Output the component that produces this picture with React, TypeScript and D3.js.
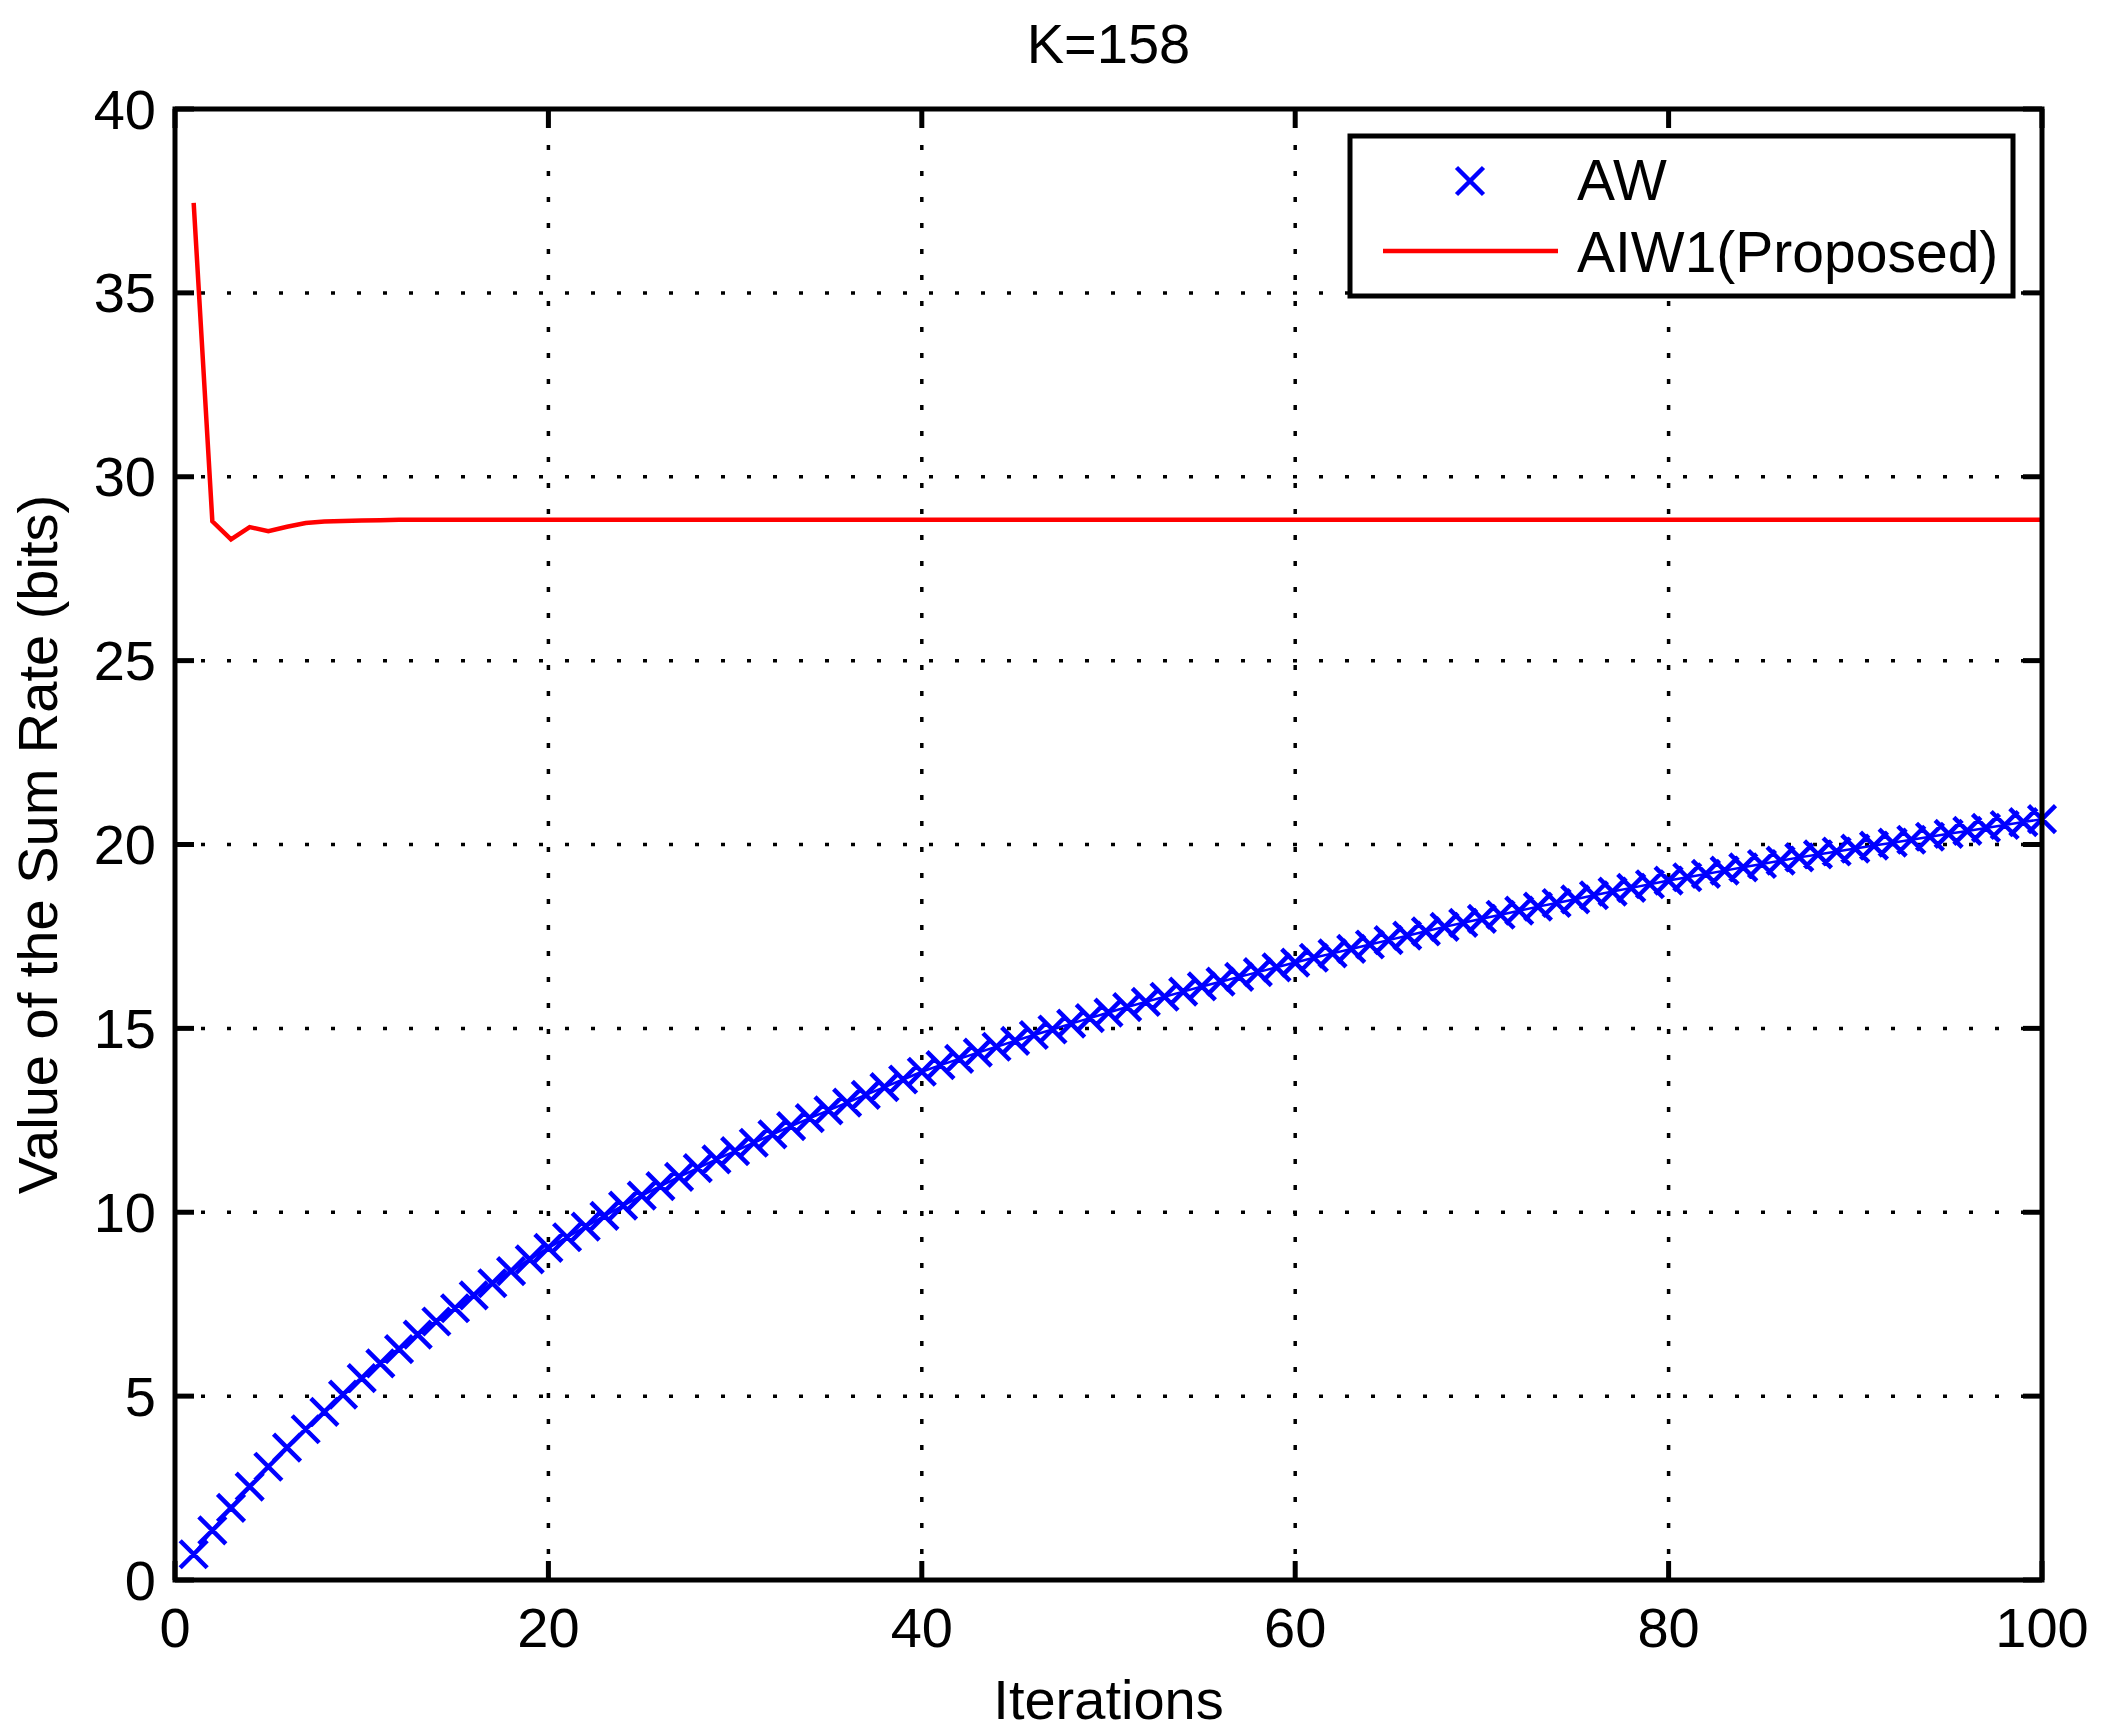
import React from "react";
import * as d3 from "d3";

// iterations 1..100
const iterations = d3.range(1, 101);

// AW (blue x markers)
const awValues = [
  0.7, 1.35, 1.96, 2.54, 3.08, 3.6, 4.1, 4.57, 5.04, 5.49,
  5.89, 6.28, 6.67, 7.03, 7.39, 7.74, 8.07, 8.4, 8.72, 9.03,
  9.32, 9.61, 9.9, 10.18, 10.45, 10.71, 10.96, 11.2, 11.44, 11.66,
  11.89, 12.12, 12.34, 12.56, 12.77, 12.98, 13.19, 13.4, 13.61, 13.82,
  14.0, 14.17, 14.34, 14.5, 14.66, 14.82, 14.97, 15.13, 15.28, 15.43,
  15.58, 15.72, 15.86, 16.0, 16.14, 16.27, 16.4, 16.53, 16.66, 16.79,
  16.92, 17.04, 17.16, 17.28, 17.4, 17.52, 17.64, 17.76, 17.87, 17.98,
  18.09, 18.2, 18.31, 18.41, 18.51, 18.62, 18.72, 18.82, 18.92, 19.02,
  19.11, 19.2, 19.29, 19.38, 19.47, 19.56, 19.65, 19.73, 19.81, 19.89,
  19.97, 20.05, 20.13, 20.21, 20.29, 20.37, 20.45, 20.53, 20.61, 20.69,
];

// AIW1 (Proposed), red line
const aiwValues = [
  37.45, 28.79, 28.3, 28.63, 28.52, 28.64, 28.74, 28.78, 28.8, 28.81,
  28.82, 28.83, 28.83, 28.83, 28.83, 28.83, 28.83, 28.83, 28.83, 28.83,
  28.83, 28.83, 28.83, 28.83, 28.83, 28.83, 28.83, 28.83, 28.83, 28.83,
  28.83, 28.83, 28.83, 28.83, 28.83, 28.83, 28.83, 28.83, 28.83, 28.83,
  28.83, 28.83, 28.83, 28.83, 28.83, 28.83, 28.83, 28.83, 28.83, 28.83,
  28.83, 28.83, 28.83, 28.83, 28.83, 28.83, 28.83, 28.83, 28.83, 28.83,
  28.83, 28.83, 28.83, 28.83, 28.83, 28.83, 28.83, 28.83, 28.83, 28.83,
  28.83, 28.83, 28.83, 28.83, 28.83, 28.83, 28.83, 28.83, 28.83, 28.83,
  28.83, 28.83, 28.83, 28.83, 28.83, 28.83, 28.83, 28.83, 28.83, 28.83,
  28.83, 28.83, 28.83, 28.83, 28.83, 28.83, 28.83, 28.83, 28.83, 28.83,
];

const xTicks = [0, 20, 40, 60, 80, 100];
const yTicks = [0, 5, 10, 15, 20, 25, 30, 35, 40];
const seriesNames = ["AW", "AIW1(Proposed)"];

const W = 2101;
const H = 1735;
const left = 175;
const right = 2042;
const top = 109;
const bottom = 1580;
const font = "'Liberation Sans', Arial, Helvetica, sans-serif";
const fs = 56;

const App = () => {
  const x = d3.scaleLinear().domain([0, 100]).range([left, right]);
  const y = d3.scaleLinear().domain([0, 40]).range([bottom, top]);

  const line = d3
    .line<number>()
    .x((_, i) => x(iterations[i]))
    .y((d) => y(d));

  const m = 13.5; // marker half size
  const cross = (cx: number, cy: number) =>
    `M${cx - m},${cy - m}L${cx + m},${cy + m}M${cx - m},${cy + m}L${cx + m},${cy - m}`;

  const tickLen = 19;
  const axisW = 5;

  return (
    <svg
      width={W}
      height={H}
      style={{ position: "absolute", left: 0, top: 0, background: "#fff" }}
      fontFamily={font}
    >
      <rect width={W} height={H} fill="#fff" />

      {/* grid */}
      {xTicks.slice(1, -1).map((t) => (
        <line
          key={"gx" + t}
          x1={x(t)}
          x2={x(t)}
          y1={bottom}
          y2={top}
          stroke="#000"
          strokeWidth={3.5}
          strokeDasharray="5,21"
        />
      ))}
      {yTicks.slice(1, -1).map((t) => (
        <line
          key={"gy" + t}
          x1={left}
          x2={right}
          y1={y(t)}
          y2={y(t)}
          stroke="#000"
          strokeWidth={3.5}
          strokeDasharray="4,22"
        />
      ))}

      {/* series */}
      <path d={line(awValues) ?? ""} fill="none" stroke="#0000ff" strokeWidth={2.5} />
      <path
        d={awValues.map((v, i) => cross(x(iterations[i]), y(v))).join("")}
        fill="none"
        stroke="#0000ff"
        strokeWidth={4.5}
      />
      <path d={line(aiwValues) ?? ""} fill="none" stroke="#ff0000" strokeWidth={4.5} />

      {/* axes box */}
      <rect
        x={left}
        y={top}
        width={right - left}
        height={bottom - top}
        fill="none"
        stroke="#000"
        strokeWidth={axisW}
      />
      {xTicks.map((t) => (
        <g key={"tx" + t}>
          <line x1={x(t)} x2={x(t)} y1={bottom} y2={bottom - tickLen} stroke="#000" strokeWidth={axisW} />
          <line x1={x(t)} x2={x(t)} y1={top} y2={top + tickLen} stroke="#000" strokeWidth={axisW} />
          <text x={x(t)} y={bottom + 67} fontSize={fs} textAnchor="middle">
            {t}
          </text>
        </g>
      ))}
      {yTicks.map((t) => (
        <g key={"ty" + t}>
          <line x1={left} x2={left + tickLen} y1={y(t)} y2={y(t)} stroke="#000" strokeWidth={axisW} />
          <line x1={right} x2={right - tickLen} y1={y(t)} y2={y(t)} stroke="#000" strokeWidth={axisW} />
          <text x={left - 19} y={y(t)} dy="0.35em" fontSize={fs} textAnchor="end">
            {t}
          </text>
        </g>
      ))}

      {/* labels */}
      <text x={(left + right) / 2} y={63} fontSize={fs} textAnchor="middle">
        K=158
      </text>
      <text x={(left + right) / 2} y={1719} fontSize={fs} textAnchor="middle">
        Iterations
      </text>
      <text
        transform={`translate(57,${(top + bottom) / 2}) rotate(-90)`}
        fontSize={fs}
        textAnchor="middle"
      >
        Value of the Sum Rate (bits)
      </text>

      {/* legend */}
      <rect x={1350} y={136} width={663} height={160} fill="#fff" stroke="#000" strokeWidth={axisW} />
      <path d={cross(1470, 181)} stroke="#0000ff" strokeWidth={4.5} fill="none" />
      <text x={1577} y={200} fontSize={57}>
        {seriesNames[0]}
      </text>
      <line x1={1383} x2={1558} y1={251} y2={251} stroke="#ff0000" strokeWidth={4.5} />
      <text x={1577} y={272} fontSize={57}>
        {seriesNames[1]}
      </text>
    </svg>
  );
};

export default App;
